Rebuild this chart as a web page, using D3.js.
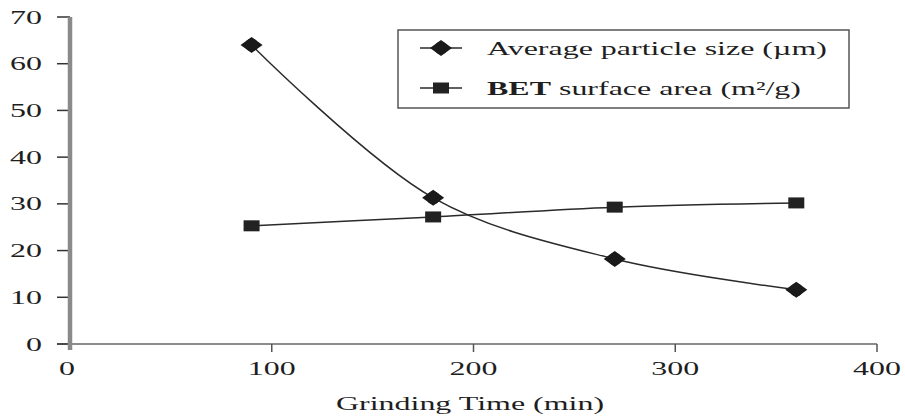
<!DOCTYPE html>
<html>
<head>
<meta charset="utf-8">
<script src="https://cdn.jsdelivr.net/npm/d3@7"></script>
<style>
  html, body { margin: 0; padding: 0; background: #fff; }
  svg { display: block; }
  text { font-family: "Liberation Serif", "DejaVu Serif", serif; fill: #1e1e1e; }
</style>
</head>
<body>
<svg id="chart" width="905" height="416"></svg>
<script>
// ---- data ----
const timeMin = [90, 180, 270, 360];
const particleSize = [64.0, 31.3, 18.2, 11.6];
const betArea = [25.3, 27.2, 29.3, 30.2];
const xTicks = [0, 100, 200, 300, 400];
const yTicks = [0, 10, 20, 30, 40, 50, 60, 70];
const seriesNames = ["Average particle size (\u00b5m)", "BET surface area (m\u00b2/g)"];
const xTitle = "Grinding Time (min)";

// ---- layout ----
const FS = 19.5, SX = 1.64;
const svg = d3.select("#chart");
const x = d3.scaleLinear().domain([0, 400]).range([70, 877]);
const y = d3.scaleLinear().domain([0, 70]).range([344, 17]);

function stretchedText(g, tx, ty, str, anchor, size) {
  const gg = g.append("g").attr("transform", `translate(${tx},${ty})`);
  const t = gg.append("text")
    .attr("transform", `scale(${SX},1)`)
    .attr("text-anchor", anchor)
    .attr("font-size", size || FS);
  return t.text(str === null ? null : str);
}

// x axis line
svg.append("line").attr("x1", 57).attr("x2", x(400)).attr("y1", y(0)).attr("y2", y(0))
  .attr("stroke", "#666").attr("stroke-width", 1.5);
// x ticks
svg.selectAll(".xt").data(xTicks.slice(1)).enter().append("line")
  .attr("x1", d => x(d)).attr("x2", d => x(d))
  .attr("y1", y(0)).attr("y2", y(0) + 8)
  .attr("stroke", "#555").attr("stroke-width", 1.5);
// y ticks
svg.selectAll(".yt").data(yTicks).enter().append("line")
  .attr("x1", 57).attr("x2", x(0))
  .attr("y1", d => y(d)).attr("y2", d => y(d))
  .attr("stroke", "#333").attr("stroke-width", 1.5);
// y axis thick line
svg.append("line").attr("x1", x(0)).attr("x2", x(0)).attr("y1", y(70)).attr("y2", y(0) + 6)
  .attr("stroke", "#8a8a8a").attr("stroke-width", 4.5);

// tick labels
const lab = svg.append("g");
yTicks.forEach(v => {
  stretchedText(lab, 42, y(v) + 6.5, String(v), "end");
});
xTicks.forEach(v => {
  stretchedText(lab, x(v) - (v === 0 ? 3 : 0), 375, String(v), "middle");
});
stretchedText(lab, 470, 410, xTitle, "middle");

// ---- series ----
const line = d3.line().x(d => x(d[0])).y(d => y(d[1])).curve(d3.curveCatmullRom);
const s1 = timeMin.map((t, i) => [t, particleSize[i]]);
const s2 = timeMin.map((t, i) => [t, betArea[i]]);

svg.append("path").datum(s1).attr("d", line)
  .attr("fill", "none").attr("stroke", "#2a2a2a").attr("stroke-width", 1.5);
svg.append("path").datum(s2).attr("d", line)
  .attr("fill", "none").attr("stroke", "#2a2a2a").attr("stroke-width", 1.5);

function diamond(g, cx, cy) {
  const gg = g.append("g").attr("transform", `translate(${cx},${cy})`);
  gg.append("path").attr("d", "M-11,0L0,-8L11,0L0,8Z").attr("fill", "#1a1a1a");
  gg.append("ellipse").attr("rx", 6.5).attr("ry", 6.5).attr("fill", "#1a1a1a");
}
function square(g, cx, cy) {
  g.append("rect").attr("x", cx - 8).attr("y", cy - 5.5).attr("width", 16).attr("height", 11)
    .attr("fill", "#222");
}
const mk = svg.append("g");
s1.forEach(d => diamond(mk, x(d[0]), y(d[1])));
s2.forEach(d => square(mk, x(d[0]), y(d[1])));

// ---- legend ----
const lg = svg.append("g");
lg.append("rect").attr("x", 398).attr("y", 30).attr("width", 451).attr("height", 78)
  .attr("fill", "#fff").attr("stroke", "#555").attr("stroke-width", 1.5);
const rows = [48, 88];
rows.forEach((ry, i) => {
  lg.append("line").attr("x1", 420).attr("x2", 462).attr("y1", ry).attr("y2", ry)
    .attr("stroke", "#2a2a2a").attr("stroke-width", 1.5);
  if (i === 0) diamond(lg, 441, ry); else square(lg, 441, ry);
});
stretchedText(lg, 487, 48 + 6.5, seriesNames[0], "start");
const t2 = stretchedText(lg, 487, 88 + 6.5, null, "start");
t2.append("tspan").attr("font-weight", "bold").text("BET");
t2.append("tspan").text(" surface area (m\u00b2/g)");
</script>
</body>
</html>
